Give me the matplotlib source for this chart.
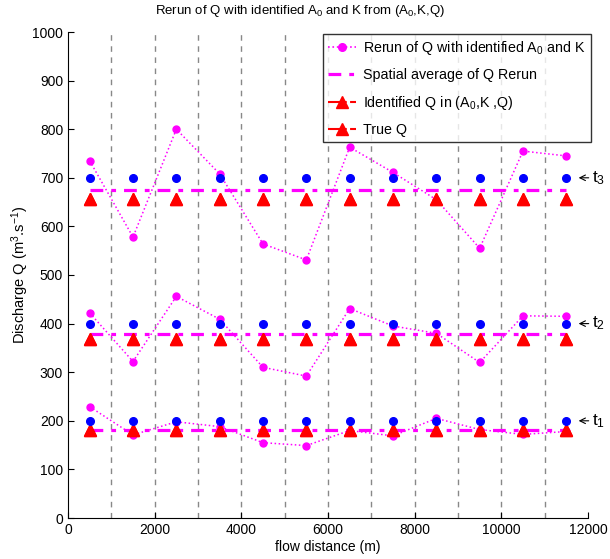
import matplotlib
matplotlib.use("Agg")
import matplotlib.pyplot as plt
from matplotlib.lines import Line2D
import numpy as np

plt.rcParams['font.family'] = ['Liberation Sans', 'DejaVu Sans']
plt.rcParams['mathtext.fontset'] = 'custom'
plt.rcParams['mathtext.rm'] = 'Liberation Sans'
plt.rcParams['mathtext.it'] = 'Liberation Sans:italic'

# ---- data ----
x_pos = [500, 1500, 2500, 3500, 4500, 5500, 6500, 7500, 8500, 9500, 10500, 11500]
time_labels = ['t1', 't2', 't3']
rerun_t1 = [229, 171, 198, 188, 155, 149, 180, 169, 205, 182, 172, 178]
rerun_t2 = [422, 322, 456, 409, 310, 292, 431, 395, 380, 320, 416, 415]
rerun_t3 = [735, 578, 800, 708, 564, 531, 763, 711, 655, 555, 755, 745]
average_q = [182, 379, 674]
identified_q = [181, 368, 656]
true_q = [181, 368, 656]
blue_q = [200, 400, 700]
grid_x = [1000, 2000, 3000, 4000, 5000, 6000, 7000, 8000, 9000, 10000, 11000]
x_ticks = [0, 2000, 4000, 6000, 8000, 10000, 12000]
y_ticks = [0, 100, 200, 300, 400, 500, 600, 700, 800, 900, 1000]

fig = plt.figure(figsize=(6.1, 5.59), dpi=100)
ax = fig.add_axes([68/610, 1-518/559, (588-68)/610, (518-32)/559])

for gx in grid_x:
    ax.plot([gx, gx], [0, 1000], color='#888888', lw=1.0, dashes=(4, 4), zorder=1)

reruns = [rerun_t1, rerun_t2, rerun_t3]
for i in range(3):
    ax.plot(x_pos, reruns[i], color='magenta', ls=':', lw=1.1, marker='o',
            markersize=5, markeredgecolor='magenta', zorder=2)
    ax.plot([x_pos[0], x_pos[-1]], [average_q[i], average_q[i]], color='magenta',
            ls='-.', lw=2.3, dashes=(4, 2.5, 1.5, 2.5), zorder=3)
    ax.plot(x_pos, [identified_q[i]]*len(x_pos), ls='none', marker='^', color='red',
            markersize=8.5, markeredgecolor='red', zorder=4)
    ax.plot(x_pos, [true_q[i]]*len(x_pos), ls='none', marker='^', color='red',
            markersize=8.5, markeredgecolor='red', zorder=4)
    ax.plot(x_pos, [blue_q[i]]*len(x_pos), ls='none', marker='o', color='blue',
            markersize=5.5, markeredgecolor='blue', zorder=5)
    ax.annotate('', xy=(11720, blue_q[i]), xytext=(12080, blue_q[i]),
                arrowprops=dict(arrowstyle='->', lw=0.8, color='black'),
                annotation_clip=False)
    ax.text(12100, blue_q[i], r'$\mathregular{t_%d}$' % (i+1), fontsize=12.5,
            va='center', ha='left', clip_on=False)

ax.set_xlim(0, 12000)
ax.set_ylim(0, 1000)
ax.set_xticks(x_ticks)
ax.set_yticks(y_ticks)
ax.tick_params(direction='in', length=4, labelsize=10)
ax.spines['top'].set_visible(False)
ax.spines['right'].set_visible(False)
ax.set_xlabel('flow distance (m)', fontsize=10, labelpad=2)
ax.set_ylabel(r'Discharge Q (m$^\mathregular{3}$.s$^\mathregular{-1}$)', fontsize=10.5)
ax.yaxis.set_label_coords(-0.072, 0.5)

fig.text(300/610, 1-11/559, r'Rerun of Q with identified A$_\mathregular{0}$ and K from (A$_\mathregular{0}$,K,Q)',
         ha='center', va='center', fontsize=9.5)

handles = [
    Line2D([], [], color='magenta', ls=':', lw=1.2, marker='o', markersize=5.5),
    Line2D([], [], color='magenta', ls='-.', lw=2.3, dashes=(4, 2.5, 1.5, 2.5)),
    Line2D([], [], color='red', ls='-.', lw=1.5, marker='^', markersize=8.5),
    Line2D([], [], color='red', ls='-.', lw=1.5, marker='^', markersize=8.5),
]
labels = [r'Rerun of Q with identified A$_\mathregular{0}$ and K',
          'Spatial average of Q Rerun',
          r'Identified Q in (A$_\mathregular{0}$,K ,Q)',
          'True Q']
leg = fig.legend(handles, labels, loc='upper right', bbox_to_anchor=(591/610, 1-34/559),
                 fontsize=10.3, frameon=True, fancybox=False, edgecolor='black',
                 handlelength=2.0, handletextpad=0.5, borderpad=0.35, labelspacing=0.8,
                 borderaxespad=0)
leg.get_frame().set_linewidth(1.0)

fig.savefig('out.png', dpi=100)
